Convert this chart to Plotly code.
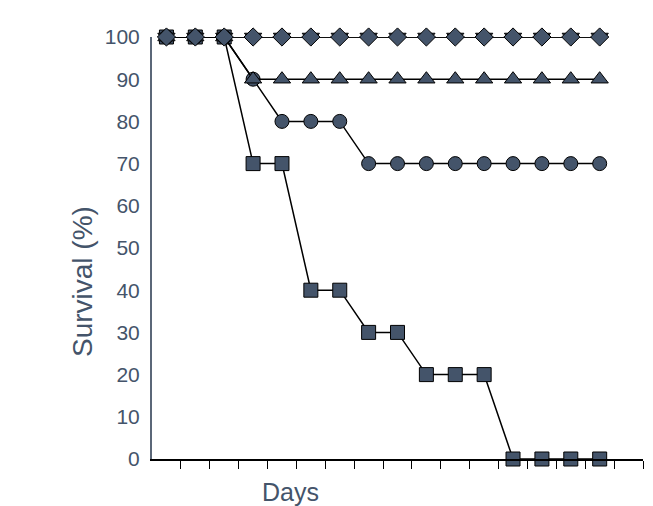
import plotly.graph_objects as go

days = [i + 0.5 for i in range(16)]
squares = [100, 100, 100, 70, 70, 40, 40, 30, 30, 20, 20, 20, 0, 0, 0, 0]
circles = [100, 100, 100, 90, 80, 80, 80, 70, 70, 70, 70, 70, 70, 70, 70, 70]
triangles = [100, 100, 100] + [90] * 13
tri_down = [100] * 16
diamonds = [100] * 16

y_ticks = list(range(0, 101, 10))
x_ticks = list(range(1, 18))

FILL = "#44546A"
series = [
    (squares, "square", 14),
    (circles, "circle", 14),
    (triangles, "triangle-up", 15),
    (tri_down, "triangle-down", 15),
    (diamonds, "diamond", 14),
]

fig = go.Figure()
for vals, sym, sz in series:
    fig.add_trace(go.Scatter(
        x=days, y=vals, mode="lines+markers",
        line=dict(color="black", width=1.5),
        marker=dict(symbol=sym, size=sz, color=FILL, line=dict(color="black", width=1)),
        cliponaxis=False, showlegend=False,
    ))

PLOT_L, PLOT_T, PLOT_B = 152, 37, 459
plot_h = PLOT_B - PLOT_T
px_per_x = 491 / 17

fig.update_layout(
    width=653, height=506,
    margin=dict(l=PLOT_L, r=10, t=PLOT_T, b=506 - PLOT_B),
    paper_bgcolor="white", plot_bgcolor="white",
    font=dict(family="Liberation Sans, Arial, sans-serif", color=FILL),
    xaxis=dict(
        range=[0, 17], tickvals=x_ticks, ticktext=[""] * len(x_ticks),
        ticks="outside", ticklen=8, tickcolor="black", tickwidth=1,
        showline=True, linecolor="black", linewidth=2,
        showgrid=False, zeroline=False,
    ),
    yaxis=dict(
        range=[0, 100], tickvals=y_ticks,
        tickfont=dict(size=21, color=FILL),
        showline=True, linecolor="#5B6778", linewidth=2,
        showgrid=False, zeroline=False, ticks="", ticklabelstandoff=6,
    ),
    annotations=[
        dict(text="Days", xref="x", yref="paper",
             x=(290 - PLOT_L) / px_per_x, y=-(492 - PLOT_B) / plot_h,
             xanchor="center", yanchor="middle", showarrow=False,
             font=dict(size=25, color=FILL)),
        dict(text="Survival (%)", xref="paper", yref="paper",
             x=-(PLOT_L - 82) / 491, y=(PLOT_B - 282) / plot_h,
             xanchor="center", yanchor="middle", textangle=-90, showarrow=False,
             font=dict(size=28, color=FILL)),
    ],
)
fig.write_html("out.html")
